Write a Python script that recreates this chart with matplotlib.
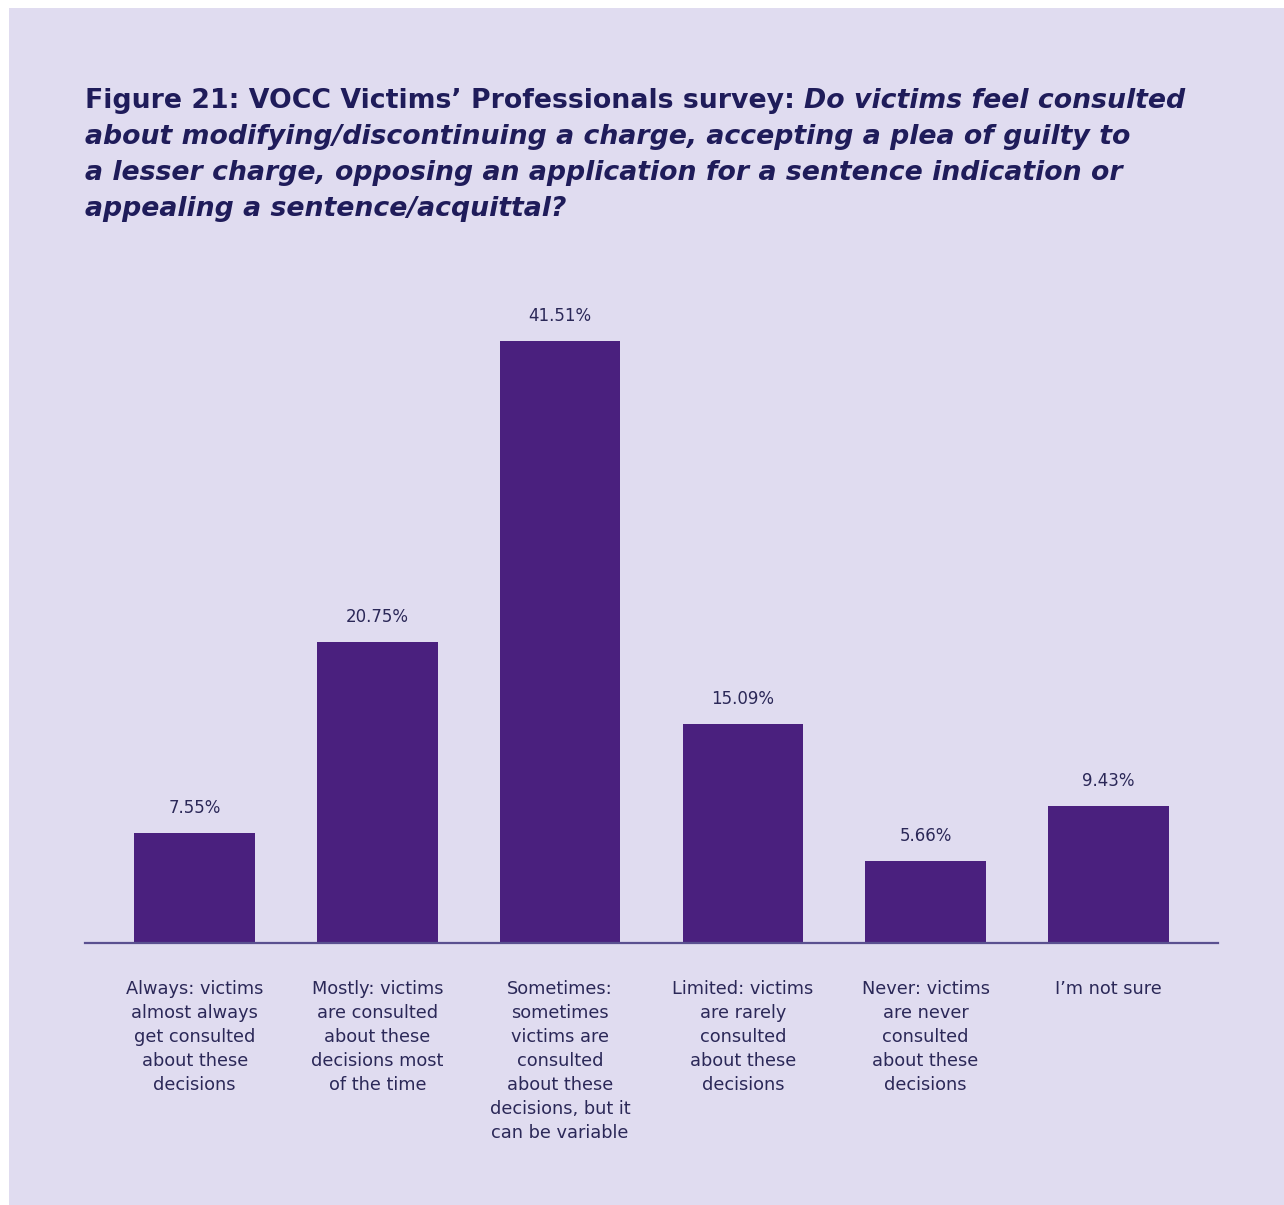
import matplotlib
matplotlib.use("Agg")
import matplotlib.pyplot as plt
from matplotlib.patches import Rectangle

categories = [
    "Always: victims\nalmost always\nget consulted\nabout these\ndecisions",
    "Mostly: victims\nare consulted\nabout these\ndecisions most\nof the time",
    "Sometimes:\nsometimes\nvictims are\nconsulted\nabout these\ndecisions, but it\ncan be variable",
    "Limited: victims\nare rarely\nconsulted\nabout these\ndecisions",
    "Never: victims\nare never\nconsulted\nabout these\ndecisions",
    "I\u2019m not sure",
]
values = [7.55, 20.75, 41.51, 15.09, 5.66, 9.43]

title_upright = "Figure 21: VOCC Victims\u2019 Professionals survey: "
title_italic_lines = [
    "Do victims feel consulted",
    "about modifying/discontinuing a charge, accepting a plea of guilty to",
    "a lesser charge, opposing an application for a sentence indication or",
    "appealing a sentence/acquittal?",
]

BG = "#e0dcf0"
BAR = "#4a207e"
TXT = "#2b2858"
TITLE = "#1f1c5a"
FONT = "DejaVu Sans"

W, H = 1284, 1205
fig = plt.figure(figsize=(W / 100, H / 100), dpi=100, facecolor="white")
fig.patches.append(Rectangle((9 / W, 0), (W - 9) / W, (H - 8) / H,
                             transform=fig.transFigure, facecolor=BG,
                             edgecolor="none", zorder=-10))

# axes: baseline at y=943 px, top at y=280 px; x from 85 to 1218 px
ax = fig.add_axes([85 / W, (H - 943) / H, (1218 - 85) / W, (943 - 280) / H])
ax.set_zorder(1)
ax.set_facecolor("none")
x = list(range(len(values)))
ax.bar(x, values, width=0.66, color=BAR, zorder=2)
ax.set_xlim(-0.6, 5.6)
ax.set_ylim(0, 45.7)
for s in ["top", "right", "left"]:
    ax.spines[s].set_visible(False)
ax.spines["bottom"].set_color("#5a5090")
ax.spines["bottom"].set_linewidth(1.6)
ax.set_yticks([])
ax.set_xticks(x)
ax.set_xticklabels(categories, fontsize=12.8, color=TXT, family=FONT,
                   linespacing=1.42, va="top")
ax.tick_params(axis="x", length=0, pad=27)

for xi, v in zip(x, values):
    ax.annotate(f"{v:.2f}%", (xi, v), xytext=(0, 11.5), textcoords="offset points",
                ha="center", va="bottom", fontsize=12, color=TXT, family=FONT)

# title: upright bold lead-in followed by bold italic question
tx, ty = 85 / W, 1 - 88 / H
lh = 36 / H
FS = 19.3
t1 = fig.text(tx, ty, title_upright, fontsize=FS, fontweight="bold",
              color=TITLE, family=FONT, va="top", ha="left")
fig.canvas.draw()
bb = t1.get_window_extent()
fig.text(bb.x1 / W, ty, title_italic_lines[0], fontsize=FS, fontweight="bold",
         style="italic", color=TITLE, family=FONT, va="top", ha="left")
for i, line in enumerate(title_italic_lines[1:], start=1):
    fig.text(tx, ty - i * lh, line, fontsize=FS, fontweight="bold",
             style="italic", color=TITLE, family=FONT, va="top", ha="left")

fig.savefig("out.png", dpi=100, facecolor="white")
